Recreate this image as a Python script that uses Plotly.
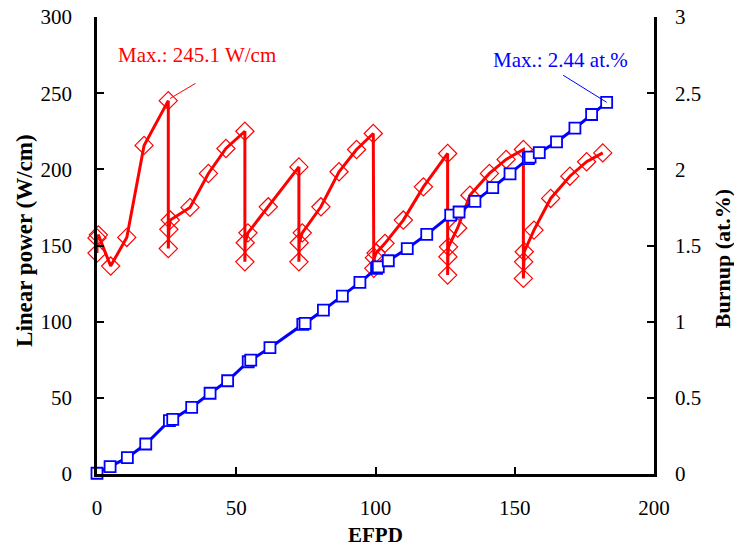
import plotly.graph_objects as go

# Linear power (W/cm) vs EFPD
power_efpd = [0, 0, 0.5, 4.9, 10.7, 16.9, 25.6, 25.6, 25.8, 26.3, 33.4, 40.0, 46.3,
              53.1, 53.1, 53.2, 54.2, 61.5, 72.5, 72.5, 72.6, 73.7, 80.4, 86.9, 93.2,
              99.2, 99.4, 99.6, 100.2, 103.4, 110.0, 117.2, 125.9, 125.9, 126.0, 126.2,
              129.5, 133.9, 140.9, 146.9, 153.1, 153.1, 153.2, 153.4, 156.9, 162.9,
              169.8, 175.8, 181.6]
power_val = [145, 155, 157, 136.5, 155.3, 215.7, 245.1, 148, 160.6, 166.7, 175, 197.3, 213.7,
             225, 139.3, 151.8, 158.3, 175.4, 201.6, 139.3, 151.8, 158.3, 175.4, 198.4, 213,
             223.5, 135, 142, 145, 151.4, 166.7, 188.5, 210.4, 130.6, 142.6, 149.1,
             161.5, 183, 197.3, 206.5, 213, 128.4, 139.3, 145.9, 160.1, 180.9,
             195.5, 205, 210.8]

# Burnup (at.%) vs EFPD
burnup_efpd = [0, 4.7, 10.9, 17.5, 26.0, 27.2, 34.0, 40.6, 46.9, 54.3, 55.2, 62.1, 73.9, 74.7,
               81.3, 88.1, 94.4, 100.4, 101.0, 104.6, 111.4, 118.4, 127.0, 130.0, 135.7,
               142.1, 148.3, 154.9, 155.5, 158.8, 165.0, 171.6, 177.6, 183.0]
burnup_val = [0.005, 0.048, 0.107, 0.197, 0.35, 0.359, 0.438, 0.53, 0.612, 0.737, 0.748, 0.829,
              0.982, 0.989, 1.076, 1.168, 1.258, 1.35, 1.36, 1.40, 1.48, 1.573, 1.70, 1.72, 1.79,
              1.88, 1.97, 2.07, 2.08, 2.11, 2.18, 2.27, 2.36, 2.44]

x_ticks = [0, 50, 100, 150, 200]
y_ticks = [0, 50, 100, 150, 200, 250, 300]
y2_ticks = [0, 0.5, 1, 1.5, 2, 2.5, 3]
y2_labels = ["0", "0.5", "1", "1.5", "2", "2.5", "3"]

FONT = "Liberation Serif"
RED = "#ff0000"
BLUE = "#0000ff"

fig = go.Figure()
fig.add_trace(go.Scatter(
    x=power_efpd, y=power_val, mode="lines+markers", cliponaxis=False,
    line=dict(color=RED, width=3),
    marker=dict(symbol="diamond-open", size=14, color=RED, line=dict(width=1.2, color=RED)),
    showlegend=False))
fig.add_trace(go.Scatter(
    x=burnup_efpd, y=burnup_val, mode="lines+markers", yaxis="y2", cliponaxis=False,
    line=dict(color=BLUE, width=3),
    marker=dict(symbol="square", size=11, color="white", line=dict(width=1.8, color=BLUE)),
    showlegend=False))

axis_common = dict(showgrid=False, zeroline=False, showline=True, linecolor="black",
                   linewidth=2.5, ticks="inside", ticklen=7, tickwidth=2, tickcolor="black",
                   automargin=False,
                   tickfont=dict(family=FONT, size=21, color="black"))

fig.update_layout(
    width=734, height=548,
    margin=dict(l=97, r=80, t=17, b=74),
    paper_bgcolor="white", plot_bgcolor="white",
    font=dict(family=FONT, color="black"),
    xaxis=dict(range=[0, 200], tickvals=x_ticks, ticklabelstandoff=13, **axis_common),
    yaxis=dict(range=[0, 300], tickvals=y_ticks, ticklabelstandoff=18, **axis_common),
    yaxis2=dict(range=[0, 3], tickvals=y2_ticks, ticktext=y2_labels, overlaying="y",
                side="right", ticklabelstandoff=14, **axis_common),
)

fig.add_annotation(text="<b>Linear power (W/cm)</b>", xref="paper", yref="paper",
                   x=0, y=0.51, xshift=-72, textangle=-90, showarrow=False,
                   xanchor="center", yanchor="middle",
                   font=dict(family=FONT, size=23, color="black"))
fig.add_annotation(text="<b>Burnup (at.%)</b>", xref="paper", yref="paper",
                   x=1, y=0.47, xshift=68, textangle=-90, showarrow=False,
                   xanchor="center", yanchor="middle",
                   font=dict(family=FONT, size=22, color="black"))
fig.add_annotation(text="<b>EFPD</b>", xref="paper", yref="paper",
                   x=0.5, y=0, yshift=-61, showarrow=False,
                   xanchor="center", yanchor="middle",
                   font=dict(family=FONT, size=21, color="black"))

# Max annotations
fig.add_annotation(text="Max.: 245.1 W/cm", x=35.9, y=275, xref="x", yref="y",
                   showarrow=False, font=dict(family=FONT, size=21, color=RED))
fig.add_annotation(text="", x=26.2, y=246.5, xref="x", yref="y", ax=27, ay=-16,
                   showarrow=True, arrowhead=0, arrowwidth=1, arrowcolor=RED, standoff=0)
fig.add_annotation(text="Max.: 2.44 at.%", x=166.3, y=2.72, xref="x", yref="y2",
                   showarrow=False, font=dict(family=FONT, size=21, color=BLUE))
fig.add_annotation(text="", x=183, y=2.44, xref="x", yref="y2", ax=-45, ay=-28,
                   showarrow=True, arrowhead=0, arrowwidth=1, arrowcolor=BLUE, standoff=0)

fig.write_html("out.html")
